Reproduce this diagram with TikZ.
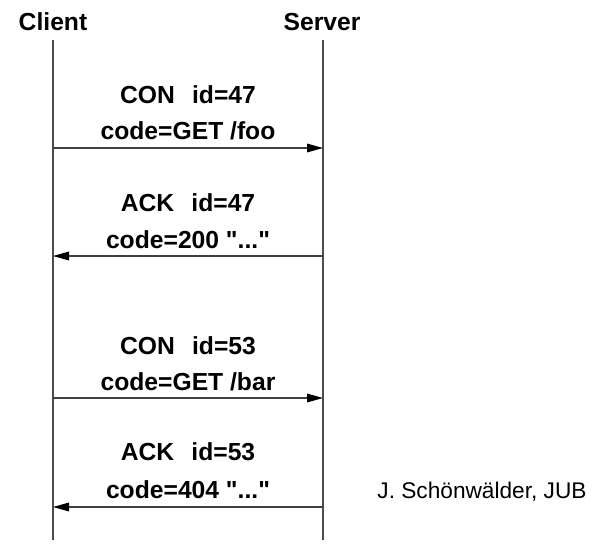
\documentclass[tikz,border=0pt]{standalone}
\usepackage{fontspec}
\setmainfont{Liberation Sans}
\usetikzlibrary{arrows.meta}

\tikzset{
  lifeline/.style={draw=black!70,line width=0.8pt},
  msg/.style={draw=black!75,line width=0.8pt,-{Triangle[length=12pt,width=6.5pt,color=black,fill=black]}},
  msgtext/.style={font=\fontsize{18.5}{22}\selectfont\bfseries,inner sep=0pt},
  party/.style={font=\fontsize{18.5}{22}\selectfont\bfseries,inner sep=0pt},
  credit/.style={font=\fontsize{17}{20}\selectfont,inner sep=0pt}
}
\newcommand{\dq}{\textquotedbl}

\begin{document}
\begin{tikzpicture}[x=0.75pt,y=-0.75pt]
        \useasboundingbox (0,0) rectangle (604,554);
        % parties
        \node[party] (client) at (53,22) {Client};
        \node[party] (server) at (322,22) {Server};
        \coordinate (ctop) at (53,40);
        \coordinate (cbot) at (53,540);
        \coordinate (stop) at (323,40);
        \coordinate (sbot) at (323,540);
        \draw[lifeline] (ctop) -- (cbot);
        \draw[lifeline] (stop) -- (sbot);
        % messages
        \coordinate (c1) at (53,148);  \coordinate (s1) at (323,148);
        \coordinate (c2) at (53,256);  \coordinate (s2) at (323,256);
        \coordinate (c3) at (53,398);  \coordinate (s3) at (323,398);
        \coordinate (c4) at (53,507);  \coordinate (s4) at (323,507);
        \draw[msg] (c1) -- (s1);
        \draw[msg] (s2) -- (c2);
        \draw[msg] (c3) -- (s3);
        \draw[msg] (s4) -- (c4);
        \node[msgtext] (con1) at (188,95) {CON\hspace{0.7em}id=47};
        \node[msgtext] (get1) at (188,131) {code=GET /foo};
        \node[msgtext] (ack1) at (188,203) {ACK\hspace{0.7em}id=47};
        \node[msgtext] (res1) at (188,240) {code=200 \dq...\dq};
        \node[msgtext] (con2) at (188,346) {CON\hspace{0.7em}id=53};
        \node[msgtext] (get2) at (188,382) {code=GET /bar};
        \node[msgtext] (ack2) at (188,452) {ACK\hspace{0.7em}id=53};
        \node[msgtext] (res2) at (188,490) {code=404 \dq...\dq};
        % credit
        \node[credit] (author) at (482,492) {J. Schönwälder, JUB};
      \end{tikzpicture}
\end{document}
